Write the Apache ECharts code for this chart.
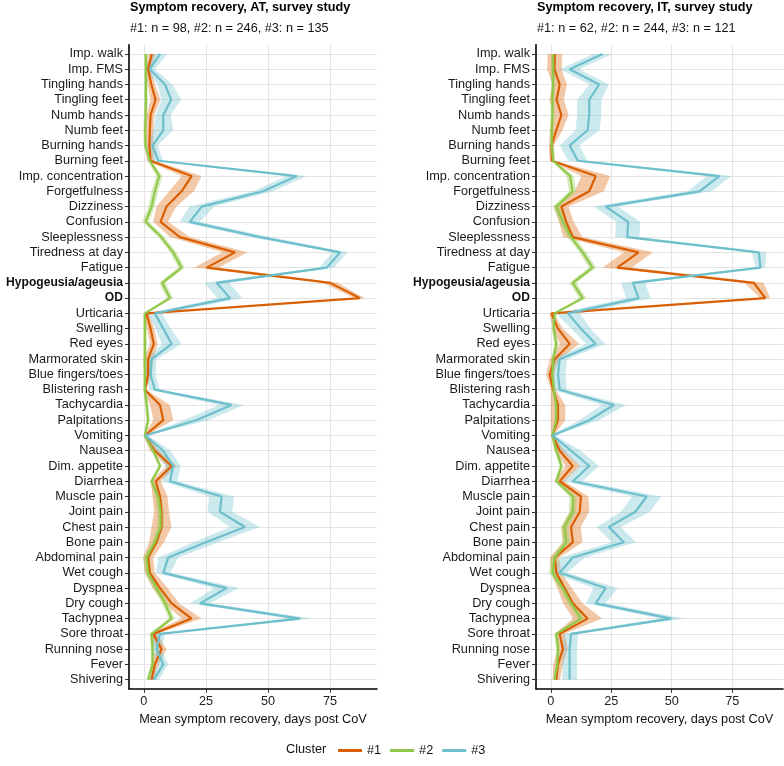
<!DOCTYPE html>
<html><head><meta charset="utf-8">
<script src="https://cdn.jsdelivr.net/npm/echarts@6/dist/echarts.min.js"></script>
<style>html,body{margin:0;padding:0;background:#fff}#c{width:784px;height:766px}</style>
</head><body><div id="c"></div>
<script>
const categories = ["Imp. walk","Imp. FMS","Tingling hands","Tingling feet","Numb hands","Numb feet","Burning hands","Burning feet","Imp. concentration","Forgetfulness","Dizziness","Confusion","Sleeplessness","Tiredness at day","Fatigue","Hypogeusia/ageusia","OD","Urticaria","Swelling","Red eyes","Marmorated skin","Blue fingers/toes","Blistering rash","Tachycardia","Palpitations","Vomiting","Nausea","Dim. appetite","Diarrhea","Muscle pain","Joint pain","Chest pain","Bone pain","Abdominal pain","Wet cough","Dyspnea","Dry cough","Tachypnea","Sore throat","Running nose","Fever","Shivering"];
const boldCategories = ["Hypogeusia/ageusia","OD"];
const xTickValues = [0,25,50,75];
const clusterNames = ["#1","#2","#3"];

// AT panel: mean days and half-width of band
const at1 = [3.2,1.7,3.0,4.7,2.7,2.4,2.2,2.7,19.2,15.2,9.1,6.7,14.5,36.7,25.3,75,87,1.0,2.7,4.0,1.7,1.7,0.4,6.5,7.8,0.4,4.4,11.2,4.8,6.5,7.1,7.1,5.1,1.7,2.4,6.5,11.2,19.2,3.8,7.1,4.4,3.1];
const at2 = [0.8,0.8,0.8,0.8,0.7,0.5,0.6,2.4,6.2,4.4,3.1,0.7,7.0,11.8,15.2,7.4,10.5,0.4,0.4,0.4,0.4,0.4,0.4,1.1,1.7,0.4,3.8,6.5,3.1,5.8,6.7,6.7,4.4,1.1,1.7,5.1,8.5,11.2,3.1,3.5,3.5,1.7];
const at3 = [6.5,2.4,8.5,11.0,7.8,7.8,3.5,5.8,61.6,48.0,23.3,18.5,46.8,79.0,73.7,29.3,34.7,4.4,7.8,11.2,3.1,2.7,4.4,35.3,21.0,0.6,7.8,11.8,10.5,31.3,30.6,40.7,25.0,9.8,7.8,33.3,22.6,62.9,6.5,5.1,7.8,4.0];
const at1Err = [1.5,1,1.5,2,1.5,1.5,1.5,1.5,4,5,4,3,4,5,5,3,2,1,1.5,1.5,2,1.5,0.5,4,4,0.5,2,2,2,3,3,4,3,2,2,3,3,4,1.5,2,1.5,1];
const at2Err = [0.7,0.7,0.7,0.7,0.7,0.7,0.7,0.7,1.3,1.3,1.3,1.3,1.3,1.3,1.3,1.3,1.3,0.7,0.7,0.7,0.7,0.7,0.7,0.7,0.7,0.5,0.7,0.7,0.7,1.3,1.3,1.3,1.3,1.3,1.3,1.3,1.3,1.3,0.7,0.7,0.7,0.7];
const at3Err = [3,2,3,4,3,4,2,2,4,4,5,4,4,3,3,5,5,3,3,4,2,2,2,5,5,1,3,3,3,5,5,6,5,4,3,5,4,5,2,2,2,2];

// IT panel
const it1 = [1.7,1.5,3.7,2.4,4.4,2.3,0.3,0.5,18.6,15.9,4.4,6.4,9.1,36.3,27.5,84,88.7,0.3,3.0,7.8,1.6,-0.4,1.0,3.0,3.0,0.7,3.7,9.1,3.7,12.5,12.0,8.4,9.1,1.6,2.3,5.7,9.1,15.2,3.7,5.0,3.0,2.3];
const it2 = [1.0,1.0,1.0,0.7,0.7,0.4,0.4,1.0,8.0,9.0,2.3,5.0,8.4,13.2,17.3,9.1,13.2,1.6,1.2,2.3,1.0,0.7,1.2,2.3,2.3,0.7,2.3,4.4,2.3,9.1,9.1,5.7,6.4,1.6,0.7,5.0,8.4,12.5,2.3,3.0,2.7,1.6];
const it3 = [21.4,7.8,20.0,15.9,15.9,15.2,7.8,11.2,69.7,61.5,22.7,32.0,31.6,86.0,86.7,34.0,36.3,7.1,12.5,18.6,3.7,3.0,3.7,26.1,15.9,0.7,8.4,15.9,9.1,39.7,35.0,24.0,30.2,9.1,3.7,22.7,18.6,49.9,8.4,7.8,7.8,7.8];
const it1Err = [3,3,3,3,3,2.5,1,1,6,6,3,3,4,6,6,4,2,1,2,4,2,1.5,1,3,3,0.5,2,3,2,3,4,4,4,2,2,3,4,6,2,2,2,1.5];
const it2Err = [0.8,0.8,0.8,0.8,0.8,0.8,0.8,0.8,1.5,1.5,1.5,1.5,1.5,1.5,1.5,1.5,1.5,0.8,0.8,0.8,0.8,0.8,0.8,0.8,0.8,0.5,0.8,0.8,0.8,1.5,1.5,1.5,1.5,1.5,1.5,1.5,1.5,1.5,0.8,0.8,0.8,0.8];
const it3Err = [4,4,4,5,5,5,4,4,5,5,5,5,5,3,2,5,5,5,4,4,3,3,3,5,4,1,4,4,4,6,6,5,5,5,3,5,4,5,3,3,3,3];

const lineColors = ["#D95F02","#92C84A","#6CBFCB"];
const bandColors = ["rgba(226,125,45,0.42)","rgba(150,205,85,0.40)","rgba(110,192,205,0.35)"];
const FONT = "'Liberation Sans', Arial, sans-serif";
const FS = 12.7;

function bandSeries(g, mean, err, ci) {
  const rows = mean.map((m, i) => [m - err[i], m + err[i], i]);
  return {
    type: 'custom', xAxisIndex: g, yAxisIndex: g, silent: true, z: 1 + ci * 0.1,
    data: rows, encode: { x: [0, 1], y: 2 },
    renderItem: function (params, api) {
      if (params.dataIndex !== 0) return null;
      const pts = [];
      for (let i = 0; i < rows.length; i++) pts.push(api.coord([rows[i][0], rows[i][2]]));
      for (let i = rows.length - 1; i >= 0; i--) pts.push(api.coord([rows[i][1], rows[i][2]]));
      return { type: 'polygon', shape: { points: pts }, style: { fill: bandColors[ci] } };
    }
  };
}
function lineSeries(g, mean, ci) {
  return {
    type: 'line', name: clusterNames[ci], xAxisIndex: g, yAxisIndex: g,
    data: mean.map((m, i) => [m, i]), symbol: 'none', showSymbol: false, z: 5 + ci * 0.1,
    lineStyle: { width: 2.2, color: lineColors[ci] }, itemStyle: { color: lineColors[ci] }
  };
}
const yIdx = categories.map((c, i) => i);
function xAxisDef(g, min, max) {
  return {
    gridIndex: g, type: 'value', min: min, max: max,
    axisLine: { show: true, onZero: false, lineStyle: { color: '#000', width: 1.6 } },
    axisTick: { show: true, customValues: xTickValues, length: 4, lineStyle: { color: '#333' } },
    axisLabel: { customValues: xTickValues, color: '#222', fontSize: FS, fontFamily: FONT, margin: 6 },
    splitLine: { show: true, lineStyle: { color: '#e4e4e4', width: 1.2 } },
    name: 'Mean symptom recovery, days post CoV', nameLocation: 'middle', nameGap: 22,
    nameTextStyle: { color: '#111', fontSize: FS, fontFamily: FONT }
  };
}
function yAxisDef(g) {
  return {
    gridIndex: g, type: 'value', inverse: true, min: -0.6, max: 41.6,
    axisLine: { show: true, onZero: false, lineStyle: { color: '#000', width: 1.6 } },
    axisTick: { show: true, customValues: yIdx, length: 4, lineStyle: { color: '#333' } },
    axisLabel: {
      customValues: yIdx, margin: 6, color: '#1a1a1a', fontSize: FS, fontFamily: FONT,
      formatter: function (v) {
        const n = categories[Math.round(v)];
        return boldCategories.indexOf(n) >= 0 ? '{b|' + n + '}' : n;
      },
      rich: { b: { fontWeight: 'bold', fontSize: 12.1, fontFamily: FONT, color: '#111' } }
    },
    splitLine: { show: true, lineStyle: { color: '#e4e4e4', width: 1.2 } }
  };
}

const chart = echarts.init(document.getElementById('c'), null, { renderer: 'canvas' });
const series = [];
[[at1, at1Err], [at2, at2Err], [at3, at3Err]].forEach((p, ci) => series.push(bandSeries(0, p[0], p[1], ci)));
[[it1, it1Err], [it2, it2Err], [it3, it3Err]].forEach((p, ci) => series.push(bandSeries(1, p[0], p[1], ci)));
[at1, at2, at3].forEach((m, ci) => series.push(lineSeries(0, m, ci)));
[it1, it2, it3].forEach((m, ci) => series.push(lineSeries(1, m, ci)));

chart.setOption({
  animation: false,
  backgroundColor: '#fff',
  textStyle: { fontFamily: FONT },
  title: [
    { left: 130, top: 1, padding: 0, itemGap: 8, text: 'Symptom recovery, AT, survey study', subtext: '#1: n = 98, #2: n = 246, #3: n = 135',
      textStyle: { fontSize: FS, fontWeight: 'bold', color: '#000', fontFamily: FONT }, subtextStyle: { fontSize: FS, color: '#111', fontFamily: FONT } },
    { left: 537, top: 1, padding: 0, itemGap: 8, text: 'Symptom recovery, IT, survey study', subtext: '#1: n = 62, #2: n = 244, #3: n = 121',
      textStyle: { fontSize: FS, fontWeight: 'bold', color: '#000', fontFamily: FONT }, subtextStyle: { fontSize: FS, color: '#111', fontFamily: FONT } }
  ],
  grid: [
    { left: 129, width: 248, top: 44.8, height: 644, outerBoundsMode: 'none', containLabel: false },
    { left: 536, width: 247, top: 44.8, height: 644, outerBoundsMode: 'none', containLabel: false }
  ],
  xAxis: [xAxisDef(0, -6, 93.9), xAxisDef(1, -6.1, 96)],
  yAxis: [yAxisDef(0), yAxisDef(1)],
  legend: {
    data: clusterNames, left: 333, top: 739, icon: 'rect', itemWidth: 24, itemHeight: 3, itemGap: 9,
    textStyle: { fontSize: FS, color: '#111', fontFamily: FONT }
  },
  graphic: [{ type: 'text', left: 286, top: 743, style: { text: 'Cluster', fontSize: FS, fontFamily: FONT, fill: '#111' } }],
  series: series
});
</script></body></html>
